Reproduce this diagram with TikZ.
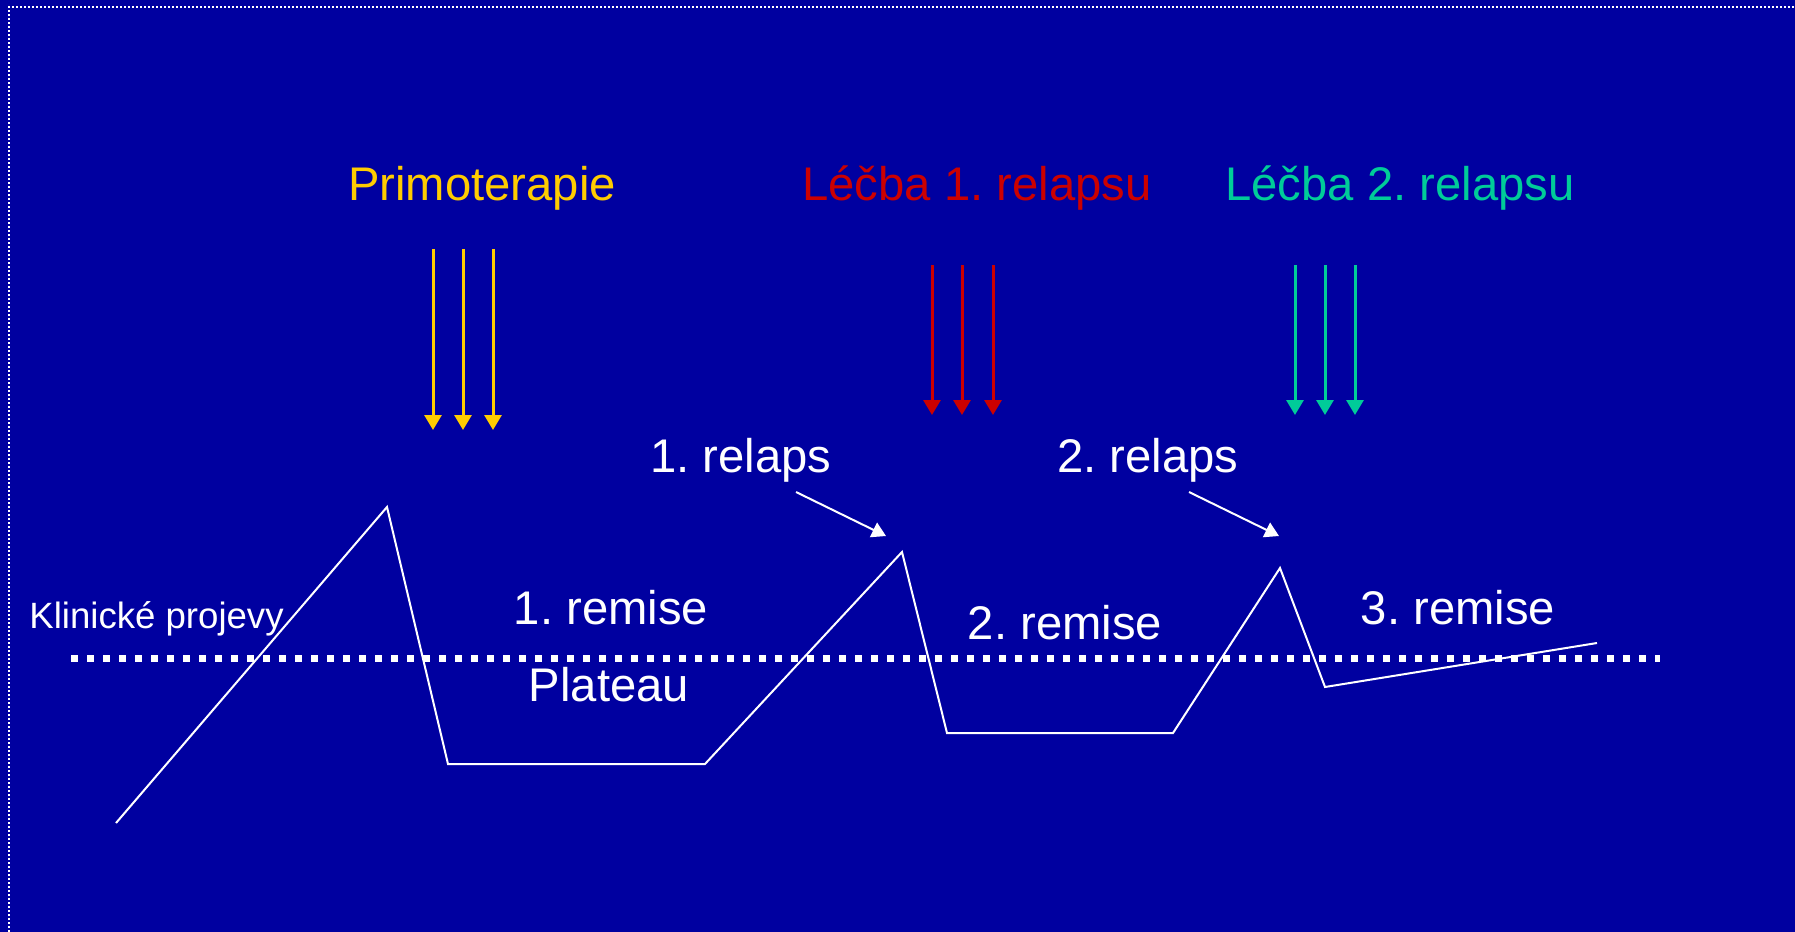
\documentclass[tikz,border=0pt]{standalone}
\usepackage{fontspec}
\setmainfont{Liberation Sans}
\usetikzlibrary{arrows.meta}
\frenchspacing
\definecolor{bgblue}{RGB}{0,0,160}
\definecolor{tyellow}{RGB}{255,204,0}
\definecolor{tred}{RGB}{204,0,0}
\definecolor{tgreen}{RGB}{0,204,153}
\tikzset{
  bigtxt/.style={font=\fontsize{23.6pt}{28pt}\selectfont, anchor=base, inner sep=0pt},
  smalltxt/.style={font=\fontsize{18.3pt}{22pt}\selectfont, anchor=base west, inner sep=0pt, text=white},
  therapy/.style={line width=1.5pt, -{Triangle[width=8.5pt,length=7.5pt]}},
  relarrow/.style={white, line width=1pt, -{Triangle[width=8pt,length=7pt]}},
  course/.style={white, line width=1pt, line join=miter},
  plateau/.style={white, line width=3.5pt, dash pattern=on 3.5pt off 4.5pt},
  frame/.style={white, line width=1pt, dash pattern=on 1pt off 1pt}
}
\begin{document}
\begin{tikzpicture}[x=0.5pt,y=-0.5pt]
\fill[bgblue] (0,0) rectangle (1795,932);
\useasboundingbox (0,0) rectangle (1795,932);
\draw[frame] (9,940) -- (9,7) -- (1800,7);

% titles
\node[bigtxt, text=tyellow] (t1) at (482,200) {Primoterapie};
\node[bigtxt, text=tred] (t2) at (977,200) {Léčba 1. relapsu};
\node[bigtxt, text=tgreen] (t3) at (1400,200) {Léčba 2. relapsu};

% therapy arrows
\foreach \x [count=\i] in {433,463,493} {
  \coordinate (ya\i) at (\x,249); \coordinate (yb\i) at (\x,430);
  \draw[therapy, tyellow] (ya\i) -- (yb\i);
}
\foreach \x [count=\i] in {932,962,993} {
  \coordinate (ra\i) at (\x,265); \coordinate (rb\i) at (\x,415);
  \draw[therapy, tred] (ra\i) -- (rb\i);
}
\foreach \x [count=\i] in {1295,1325,1355} {
  \coordinate (ga\i) at (\x,265); \coordinate (gb\i) at (\x,415);
  \draw[therapy, tgreen] (ga\i) -- (gb\i);
}

% relapse labels
\node[bigtxt, text=white] (r1) at (741,472) {1. relaps};
\node[bigtxt, text=white] (r2) at (1148,472) {2. relaps};
\coordinate (r1s) at (796,492); \coordinate (r1e) at (886,536);
\coordinate (r2s) at (1189,492); \coordinate (r2e) at (1279,536);
\draw[relarrow] (r1s) -- (r1e);
\draw[relarrow] (r2s) -- (r2e);

% plateau line
\coordinate (pl1) at (71,658); \coordinate (pl2) at (1660,658);
\draw[plateau] (pl1) -- (pl2);

% disease course
\draw[course] (116,823) -- (387,507) -- (448,764) -- (705,764) -- (902,552)
  -- (947,733) -- (1173,733) -- (1280,568) -- (1325,687) -- (1597,643);

% remission labels
\node[bigtxt, text=white] (m1) at (611,624) {1. remise};
\node[bigtxt, text=white] (m2) at (1065,639) {2. remise};
\node[bigtxt, text=white] (m3) at (1458,624) {3. remise};
\node[bigtxt, text=white] (pt) at (609,701) {Plateau};
\node[smalltxt] (kp) at (29,628) {Klinické projevy};
\end{tikzpicture}
\end{document}
